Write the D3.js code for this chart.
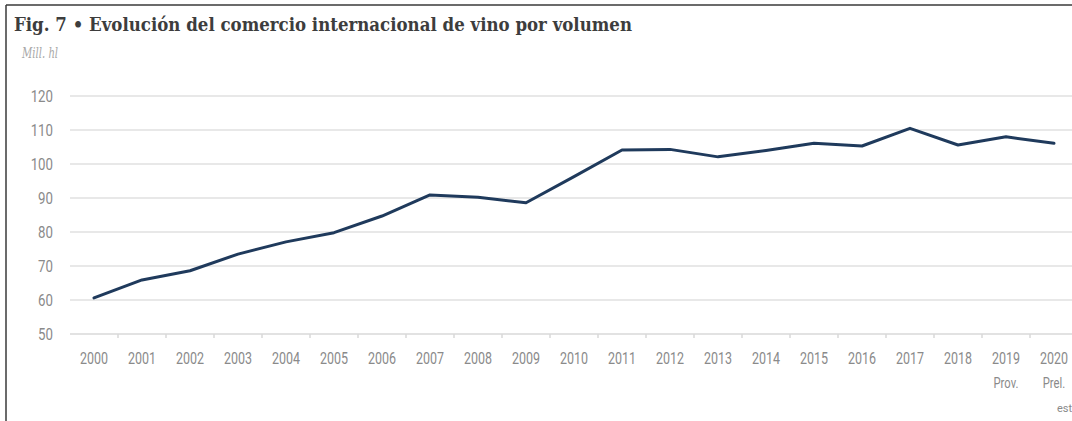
<!DOCTYPE html>
<html>
<head>
<meta charset="utf-8">
<script src="https://cdn.jsdelivr.net/npm/d3@7"></script>
<style>
  html, body { margin: 0; padding: 0; background: #fff; overflow: hidden; }
  svg { display: block; }
</style>
</head>
<body>
<svg id="chart" width="1072" height="421"></svg>
<script>
// Years shown on the x axis
const years = ["2000","2001","2002","2003","2004","2005","2006","2007","2008","2009","2010",
               "2011","2012","2013","2014","2015","2016","2017","2018","2019","2020"];
// Second line under some years
const yearNotes = {"2019": "Prov.", "2020": "Prel."};
// International wine trade volume, millions of hl
const volume = [60.6, 65.9, 68.6, 73.5, 77.1, 79.8, 84.7, 90.9, 90.2, 88.6, 96.3,
                104.1, 104.3, 102.1, 104.0, 106.1, 105.3, 110.5, 105.6, 108.0, 106.1];
// Y axis ticks
const yTicks = [50, 60, 70, 80, 90, 100, 110, 120];

const titleText = "Fig. 7 \u2022 Evolución del comercio internacional de vino por volumen";
const unitText = "Mill. hl";
const footText = "est";

const svg = d3.select("#chart");
const W = 1072, H = 421;

const x = d3.scaleBand().domain(years).range([70, 1078]).paddingInner(0).paddingOuter(0);
const y = d3.scaleLinear().domain([50, 120]).range([334, 96]);

// Squeeze axis text horizontally around its anchor (text sits at x = 0 in its tick group)
function squeeze(sel, factor) {
  sel.attr("transform", `scale(${factor},1)`);
}

// Frame lines (left and top)
svg.append("line").attr("x1", 6).attr("x2", 6).attr("y1", 5).attr("y2", H)
  .attr("stroke", "#3a3a3a").attr("stroke-width", 1.5);
svg.append("line").attr("x1", 6).attr("x2", W).attr("y1", 5).attr("y2", 5)
  .attr("stroke", "#3a3a3a").attr("stroke-width", 1.5);

// Title
svg.append("text")
  .attr("x", 14).attr("y", 31)
  .attr("font-family", "DejaVu Serif, serif")
  .attr("font-weight", "bold")
  .attr("font-size", 19)
  .attr("fill", "#3d3d3d")
  .attr("textLength", 618).attr("lengthAdjust", "spacingAndGlyphs")
  .text(titleText);

// Unit label
svg.append("text")
  .attr("transform", "translate(22,58) scale(0.72,1)")
  .attr("font-family", "DejaVu Serif, serif")
  .attr("font-style", "italic")
  .attr("font-size", 14)
  .attr("fill", "#a8a8a8")
  .text(unitText);

// Horizontal gridlines
const grid = svg.append("g");
grid.selectAll("line").data(yTicks.filter(d => d !== 50)).join("line")
  .attr("x1", 70).attr("x2", W)
  .attr("y1", d => y(d)).attr("y2", d => y(d))
  .attr("stroke", "#e8e8e8").attr("stroke-width", 2);

// Y axis labels
const yAxis = d3.axisLeft(y).tickValues(yTicks).tickSize(0).tickPadding(0);
const gy = svg.append("g").attr("transform", "translate(53,0)").call(yAxis);
gy.select(".domain").remove();
gy.selectAll("text")
  .attr("x", 0)
  .attr("font-family", "Roboto, sans-serif")
  .attr("font-size", 17)
  .attr("fill", "#8a8a8a")
  .call(squeeze, 0.78);

// X axis: baseline with ticks between years
const xAxis = d3.axisBottom(x).tickSize(0).tickPadding(0);
const gx = svg.append("g").attr("transform", `translate(0,${y(50)})`).call(xAxis);
gx.select(".domain").attr("stroke", "#e2e2e2").attr("stroke-width", 2)
  .attr("d", `M70,0H${W}`);
gx.selectAll(".tick text")
  .attr("y", 30)
  .attr("dy", 0)
  .attr("font-family", "Roboto, sans-serif")
  .attr("font-size", 16)
  .attr("fill", "#8a8a8a")
  .call(squeeze, 0.78);

// Notes under provisional / preliminary years
gx.selectAll(".tick").filter(d => yearNotes[d])
  .append("text")
  .attr("y", 54)
  .attr("text-anchor", "middle")
  .attr("font-family", "Roboto, sans-serif")
  .attr("font-size", 15)
  .attr("fill", "#8a8a8a")
  .text(d => yearNotes[d])
  .call(squeeze, 0.75);

// Separator ticks at band boundaries
gx.append("g").selectAll("line").data(years.slice(1)).join("line")
  .attr("x1", d => x(d)).attr("x2", d => x(d))
  .attr("y1", 0).attr("y2", 4)
  .attr("stroke", "#d8d8d8").attr("stroke-width", 1.5);

// Volume line
const line = d3.line()
  .x((d, i) => x(years[i]) + x.bandwidth() / 2)
  .y(d => y(d));
svg.append("path")
  .datum(volume)
  .attr("d", line)
  .attr("fill", "none")
  .attr("stroke", "#1f3a5c")
  .attr("stroke-width", 3)
  .attr("stroke-linejoin", "round")
  .attr("stroke-linecap", "round");

// Footnote at the lower right corner
svg.append("text")
  .attr("x", 1057).attr("y", 412)
  .attr("font-family", "Roboto, sans-serif")
  .attr("font-size", 11)
  .attr("fill", "#8a8a8a")
  .text(footText);
</script>
</body>
</html>
